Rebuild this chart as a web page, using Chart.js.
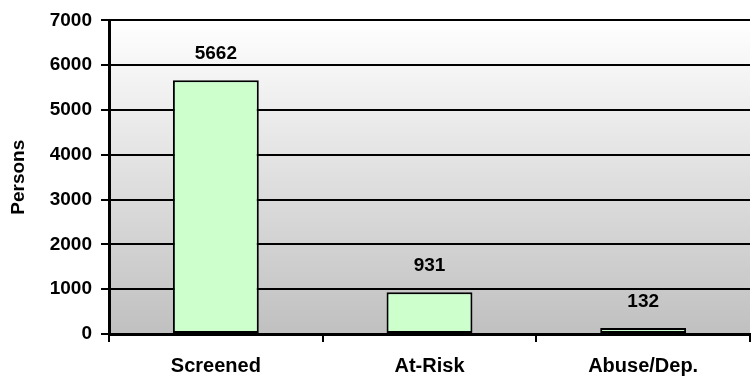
<!DOCTYPE html>
<html>
<head>
<meta charset="utf-8">
<script src="https://cdn.jsdelivr.net/npm/chart.js@4.4.1/dist/chart.umd.min.js"></script>
<style>
  html, body { margin: 0; padding: 0; background: #ffffff; }
  #wrap { width: 752px; height: 377px; }
</style>
</head>
<body>
<div id="wrap"><canvas id="c" width="752" height="377"></canvas></div>
<script>
// Screening results
const categories = ['Screened', 'At-Risk', 'Abuse/Dep.'];
const persons = [5662, 931, 132];
const yTicks = [0, 1000, 2000, 3000, 4000, 5000, 6000, 7000];

const FONT = "'Liberation Sans', Arial, sans-serif";

// Grey gradient behind the plot area
const plotBackground = {
  id: 'plotBackground',
  beforeDraw(chart) {
    const { ctx, chartArea: a } = chart;
    const g = ctx.createLinearGradient(0, a.top, 0, a.bottom);
    g.addColorStop(0, '#ffffff');
    g.addColorStop(1, '#c0c0c0');
    ctx.save();
    ctx.fillStyle = g;
    ctx.fillRect(a.left, a.top, a.right - a.left, a.bottom - a.top);
    ctx.restore();
  }
};

// Value printed above each bar
const valueLabels = {
  id: 'valueLabels',
  afterDatasetsDraw(chart) {
    const { ctx } = chart;
    const meta = chart.getDatasetMeta(0);
    ctx.save();
    ctx.font = `bold 19px ${FONT}`;
    ctx.fillStyle = '#000000';
    ctx.textAlign = 'center';
    ctx.textBaseline = 'bottom';
    meta.data.forEach((bar, i) => {
      ctx.fillText(String(persons[i]), bar.x, bar.y - 17);
    });
    ctx.restore();
  }
};

new Chart(document.getElementById('c'), {
  type: 'bar',
  data: {
    labels: categories,
    datasets: [{
      data: persons,
      backgroundColor: '#ccffcc',
      borderColor: '#000000',
      borderWidth: 2,
      borderSkipped: false,
      categoryPercentage: 1.0,
      barPercentage: 0.402
    }]
  },
  options: {
    responsive: false,
    animation: false,
    devicePixelRatio: 1,
    layout: { padding: { top: 18, right: 2, left: 0, bottom: 0 } },
    plugins: { legend: { display: false }, tooltip: { enabled: false } },
    scales: {
      x: {
        grid: {
          offset: true,
          drawOnChartArea: false,
          drawTicks: true,
          tickLength: 8,
          color: '#000000',
          lineWidth: 2
        },
        border: { display: true, color: '#000000', width: 3 },
        ticks: {
          color: '#000000',
          font: { family: FONT, size: 20, weight: 'bold' },
          padding: 12,
          maxRotation: 0
        },
        afterFit(s) { s.height = 43; }
      },
      y: {
        min: 0,
        max: 7000,
        afterBuildTicks(s) { s.ticks = yTicks.map(v => ({ value: v })); },
        grid: {
          color: '#000000',
          lineWidth: 2,
          drawTicks: true,
          tickLength: 8
        },
        border: { display: true, color: '#000000', width: 3 },
        ticks: {
          color: '#000000',
          font: { family: FONT, size: 19, weight: 'bold' },
          padding: 9,
          callback: v => String(v)
        },
        title: {
          display: true,
          text: 'Persons',
          color: '#000000',
          font: { family: FONT, size: 19, weight: 'bold' },
          padding: { top: 7, bottom: 0 }
        },
        afterFit(s) { s.width = 109; }
      }
    }
  },
  plugins: [plotBackground, valueLabels]
});
</script>
</body>
</html>
